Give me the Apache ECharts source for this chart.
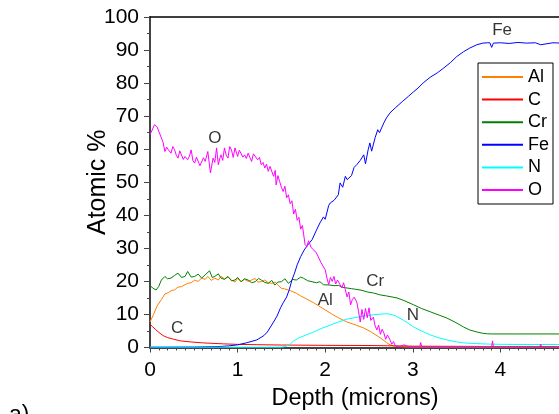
<!DOCTYPE html>
<html>
<head>
<meta charset="utf-8">
<script src="https://cdn.jsdelivr.net/npm/echarts@6/dist/echarts.min.js"></script>
<style>html,body{margin:0;padding:0;background:#fff;overflow:hidden;width:559px;height:414px;}#c{width:588px;height:414px;}</style>
</head>
<body>
<div id="c"></div>
<script>
const seriesNames = ['Al', 'C', 'Cr', 'Fe', 'N', 'O'];
const yTicks = [0, 10, 20, 30, 40, 50, 60, 70, 80, 90, 100];
const xTicks = [0, 1, 2, 3, 4, 5];

const alData = [[0,7.7],[0.04,10],[0.08,12.5],[0.13,14.5],[0.17,16.2],[0.21,16.6],[0.25,17.3],[0.28,17.4],[0.32,18.3],[0.36,18.4],[0.4,19.0],[0.43,19.4],[0.47,19.6],[0.51,20.4],[0.55,20.0],[0.59,21.0],[0.63,20.6],[0.66,21.5],[0.7,20.3],[0.74,21.0],[0.78,20.4],[0.81,21.5],[0.85,20.8],[0.89,21.3],[0.93,20.4],[0.97,19.8],[1.0,20.9],[1.04,19.9],[1.08,20.6],[1.12,20.0],[1.16,20.4],[1.2,20.9],[1.23,19.8],[1.27,19.9],[1.31,20.4],[1.35,19.6],[1.39,19.4],[1.43,19.8],[1.46,18.9],[1.5,17.9],[1.54,17.7],[1.58,17.4],[1.62,17.0],[1.67,16.4],[1.72,15.6],[1.78,14.8],[1.87,13.5],[1.95,12.2],[2.06,10.4],[2.15,9.0],[2.25,7.7],[2.35,6.8],[2.44,5.9],[2.53,4.6],[2.63,2.9],[2.7,1.5],[2.74,0.8],[2.8,0.3],[3.0,0.15],[4.7,0.15],[5,0.15]];

const cData = [[0,7.0],[0.03,6.3],[0.06,5.5],[0.1,4.6],[0.15,3.6],[0.2,3.0],[0.27,2.5],[0.35,2.0],[0.46,1.7],[0.6,1.4],[0.84,1.1],[1.0,0.95],[1.22,0.85],[1.5,0.75],[2.0,0.65],[2.5,0.6],[2.8,0.5],[3.0,0.4],[3.5,0.35],[4.0,0.3],[5,0.3]];

const crData = [[0,18.8],[0.03,18.0],[0.07,17.4],[0.1,18.5],[0.13,20.4],[0.17,21.5],[0.2,20.8],[0.24,21],[0.28,21.8],[0.32,22.5],[0.36,21.2],[0.4,21.5],[0.43,23],[0.47,21.3],[0.51,21.5],[0.55,22.2],[0.59,21],[0.63,22],[0.68,23.2],[0.71,21.2],[0.74,21.5],[0.78,22.3],[0.81,21],[0.85,20.6],[0.89,21.5],[0.93,20.2],[0.97,20.4],[1.0,21.2],[1.04,19.9],[1.08,20.8],[1.12,20.4],[1.16,19.6],[1.2,19.9],[1.24,20.9],[1.27,20.4],[1.31,19.7],[1.35,19.4],[1.39,20.3],[1.425,18.9],[1.46,19.8],[1.5,19.9],[1.54,20.8],[1.58,19.4],[1.63,20.6],[1.67,20.4],[1.72,21.3],[1.75,21],[1.8,20.2],[1.85,19.9],[1.9,19.6],[1.94,19.9],[1.98,19.0],[2.05,18.9],[2.1,18.7],[2.15,18.8],[2.2,18.2],[2.25,18.0],[2.3,17.8],[2.35,17.6],[2.42,17.3],[2.48,16.8],[2.55,16.5],[2.63,15.9],[2.7,15.6],[2.82,15.0],[2.9,14.2],[3.01,12.9],[3.1,11.8],[3.2,10.8],[3.3,9.8],[3.39,8.9],[3.48,7.7],[3.58,6.2],[3.65,5.3],[3.73,4.7],[3.8,4.3],[3.85,4.15],[3.9,4.1],[4.2,4.1],[5,4.1]];

const feData = [[0,0.1],[0.5,0.15],[0.8,0.3],[0.9,0.5],[1.0,0.8],[1.1,1.4],[1.22,2.3],[1.3,3.6],[1.34,4.7],[1.41,7.7],[1.45,9.5],[1.49,12],[1.52,13.5],[1.56,15.3],[1.59,17.5],[1.62,20.4],[1.65,22.5],[1.68,25],[1.72,27.5],[1.76,29.5],[1.8,31],[1.85,32.6],[1.9,35.5],[1.94,37.7],[1.98,39.5],[2.0,38.8],[2.04,43],[2.06,43.8],[2.1,44.5],[2.15,46.2],[2.17,49.8],[2.2,48.5],[2.23,51.8],[2.25,50.8],[2.3,52],[2.33,54.5],[2.36,55.3],[2.4,56.6],[2.44,58.3],[2.46,55.6],[2.49,59.8],[2.51,61.9],[2.53,59.4],[2.57,63.5],[2.6,65.9],[2.62,65],[2.67,68],[2.7,69.5],[2.74,71],[2.8,72.5],[2.88,74.4],[2.95,76],[3.01,77.4],[3.06,78.5],[3.12,80.1],[3.2,81.8],[3.28,83.1],[3.35,84.5],[3.43,86.2],[3.5,88],[3.58,89.5],[3.65,90.6],[3.73,91.6],[3.8,92.1],[3.85,92.2],[3.88,92.2],[3.9,90.8],[3.92,92.1],[4.0,92.2],[4.1,92],[4.2,92.3],[4.3,92.1],[4.4,92.2],[4.46,91.6],[4.48,92.1],[4.6,92.2],[4.7,92.1],[5,92.1]];

const nData = [[0,0.1],[1.5,0.1],[1.55,0.3],[1.6,1.0],[1.64,2.0],[1.7,2.9],[1.8,4.0],[1.87,4.7],[1.95,5.7],[2.06,6.8],[2.15,7.7],[2.25,8.6],[2.35,9.1],[2.44,9.5],[2.55,9.9],[2.63,10.1],[2.7,10.2],[2.74,10.1],[2.8,9.6],[2.89,8.3],[2.95,7.3],[3.01,6.2],[3.1,5.0],[3.2,3.8],[3.3,2.9],[3.39,2.3],[3.5,1.7],[3.58,1.4],[3.7,1.2],[3.9,1.0],[4.2,0.9],[5,0.9]];

const oData = [[0,64.5],[0.02,65.5],[0.05,67.4],[0.08,66.8],[0.1,67.4],[0.13,63.4],[0.15,62],[0.17,59.3],[0.19,60.6],[0.21,59.8],[0.24,58.8],[0.26,60.8],[0.28,59.9],[0.3,58.2],[0.32,57.3],[0.34,59.5],[0.36,59.3],[0.38,56.9],[0.4,57.8],[0.43,56.8],[0.45,57.9],[0.47,59.8],[0.49,56.5],[0.51,55.8],[0.53,57.6],[0.55,57.3],[0.57,55.0],[0.59,55.3],[0.61,57.4],[0.63,56.3],[0.66,59.3],[0.69,52.8],[0.72,57.3],[0.74,56.0],[0.76,60.4],[0.78,55.3],[0.8,57.5],[0.81,58.3],[0.83,56.6],[0.85,60.4],[0.87,58.2],[0.89,57.3],[0.91,60.8],[0.93,59.8],[0.95,57.5],[0.97,60.4],[1.0,57.8],[1.02,59.7],[1.04,59.3],[1.06,57.6],[1.08,58.3],[1.1,57.2],[1.12,58.8],[1.14,57.5],[1.16,56.3],[1.18,58.6],[1.2,58.3],[1.23,56.8],[1.25,57.5],[1.27,55.3],[1.29,56.0],[1.31,54.3],[1.33,55.5],[1.35,53.3],[1.37,54.8],[1.39,55.3],[1.41,51.8],[1.43,53.6],[1.44,49.2],[1.46,52.0],[1.48,50.2],[1.5,48.5],[1.52,47.2],[1.54,48.8],[1.56,45.3],[1.58,46.2],[1.6,43.5],[1.62,44.4],[1.64,40.4],[1.66,41.8],[1.68,38.5],[1.7,39.4],[1.72,35.8],[1.74,36.9],[1.77,31.2],[1.79,30.5],[1.81,32.3],[1.84,30.2],[1.87,29.5],[1.9,28.6],[1.92,29.2],[1.95,25.8],[1.98,24.4],[2.0,23.5],[2.02,21.0],[2.04,19.0],[2.06,21.2],[2.08,20.0],[2.1,21.5],[2.12,19.2],[2.14,20.4],[2.17,19.0],[2.19,18.0],[2.21,19.6],[2.23,17.5],[2.25,15.3],[2.27,16.8],[2.29,12.9],[2.31,14.5],[2.33,15.2],[2.36,13.8],[2.38,11.0],[2.4,7.7],[2.42,11.5],[2.44,8.5],[2.46,11.8],[2.48,9.0],[2.5,12.0],[2.52,8.2],[2.55,9.2],[2.57,6.5],[2.59,5.3],[2.61,6.8],[2.63,4.0],[2.65,5.5],[2.67,4.4],[2.69,2.5],[2.71,3.8],[2.74,2.3],[2.76,1.0],[2.78,1.8],[2.8,0.5],[2.85,0.3],[2.9,0.8],[2.95,0.3],[3.08,0.3],[3.09,1.5],[3.1,0.3],[3.5,0.3],[3.9,0.3],[3.91,2.0],[3.92,0.3],[4.2,0.3],[4.45,0.3],[4.46,1.0],[4.47,0.3],[5,0.3]];

const annText = ['O', 'C', 'Al', 'Cr', 'N', 'Fe'];
const annX = [0.74, 0.31, 2.0, 2.57, 3.0, 4.02];
const annY = [63.3, 5.9, 14.4, 20.0, 9.6, 96.0];

const colors = ['#ff8000', '#ff0000', '#008000', '#0000ff', '#00ffff', '#ff00ff'];
const allData = [alData, cData, crData, feData, nData, oData];
const FONT = '"Liberation Sans", Arial, sans-serif';

const chart = echarts.init(document.getElementById('c'), null, {renderer: 'canvas'});

const series = seriesNames.map((n, i) => ({
  name: n, type: 'line', data: allData[i], showSymbol: false, symbol: 'none',
  lineStyle: {width: 1, color: colors[i]}, itemStyle: {color: colors[i]},
  clip: true, z: 2 + i
}));
series.push({
  name: 'labels', type: 'scatter', symbolSize: 0, silent: true, z: 10,
  data: annText.map((t, i) => ({value: [annX[i], annY[i]], name: t})),
  label: {show: true, position: 'inside', formatter: p => p.name, color: '#000', fontSize: 17, fontFamily: FONT}
});

chart.setOption({
  animation: false,
  backgroundColor: '#fff',
  grid: {left: 150, top: 17, bottom: 66.5, right: 0, outerBoundsMode: 'none', containLabel: false},
  legend: {
    data: seriesNames, orient: 'vertical', left: 478, top: 63,
    padding: [5, 4, 5, 3], itemWidth: 41, itemHeight: 14, itemGap: 4.6,
    borderColor: '#000', borderWidth: 1, backgroundColor: '#fff',
    itemStyle: {opacity: 0, color: 'transparent', borderWidth: 0},
    textStyle: {fontSize: 18, color: '#000', fontFamily: FONT}, z: 20
  },
  xAxis: [{
    type: 'value', min: xTicks[0], max: xTicks[xTicks.length - 1], interval: 1, position: 'bottom',
    name: 'Depth (microns)', nameLocation: 'middle', nameGap: 39, nameMoveOverlap: false,
    nameTextStyle: {fontSize: 23.5, color: '#000', fontFamily: FONT, padding: [0, 28, 0, 0]},
    axisLine: {show: true, onZero: false, lineStyle: {color: '#444', width: 2}},
    axisTick: {show: true, inside: false, length: 5, lineStyle: {color: '#444', width: 1}},
    minorTick: {show: true, splitNumber: 10, length: 3, lineStyle: {color: '#444', width: 1}},
    axisLabel: {fontSize: 21, color: '#000', margin: 12, fontFamily: FONT},
    splitLine: {show: false}
  }, {
    type: 'value', min: xTicks[0], max: xTicks[xTicks.length - 1], position: 'top',
    axisLine: {show: true, onZero: false, lineStyle: {color: '#000', width: 1.5}},
    axisTick: {show: false}, axisLabel: {show: false}, splitLine: {show: false}
  }],
  yAxis: {
    type: 'value', min: yTicks[0], max: yTicks[yTicks.length - 1], interval: 10,
    name: 'Atomic %', nameLocation: 'middle', nameGap: 39, nameMoveOverlap: false,
    nameTextStyle: {fontSize: 25, color: '#000', fontFamily: FONT},
    axisLine: {show: true, onZero: false, lineStyle: {color: '#444', width: 2}},
    axisTick: {show: true, inside: false, length: 6, lineStyle: {color: '#444', width: 1}},
    minorTick: {show: true, splitNumber: 2, length: 3, lineStyle: {color: '#444', width: 1}},
    axisLabel: {fontSize: 21, color: '#000', margin: 11, fontFamily: FONT},
    splitLine: {show: false}
  },
  graphic: [{
    type: 'text', left: 9, top: 404,
    style: {text: 'a)', fontSize: 23, fill: '#000', font: '23px ' + FONT}
  }],
  series: series
});
</script>
</body>
</html>
